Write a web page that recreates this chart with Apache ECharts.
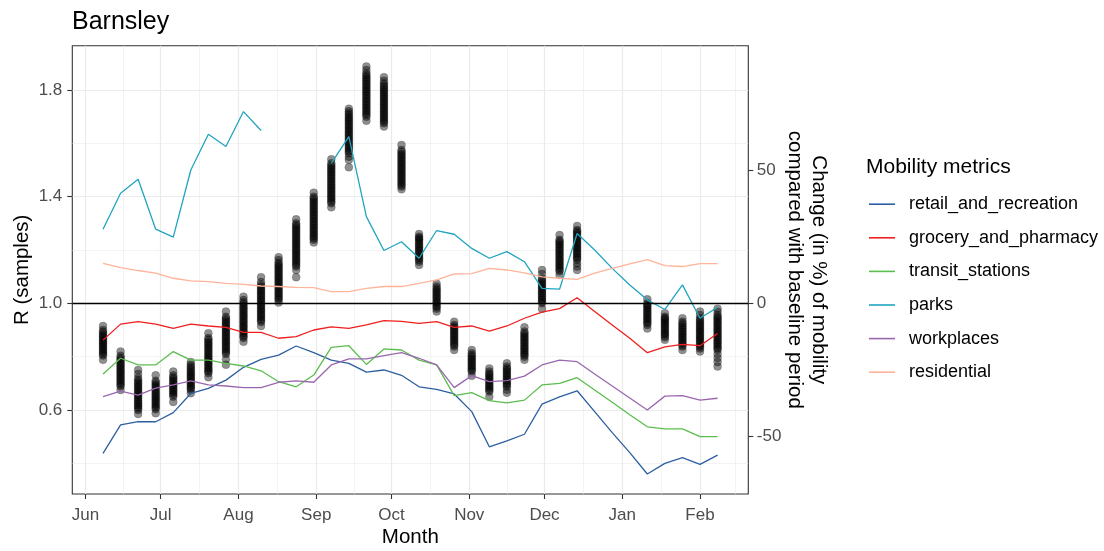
<!DOCTYPE html>
<html>
<head>
<meta charset="utf-8">
<script src="https://cdn.jsdelivr.net/npm/echarts@6/dist/echarts.min.js"></script>
<style>
  html, body { margin: 0; padding: 0; background: #fff; }
  #chart { width: 1104px; height: 551px; }
</style>
</head>
<body>
<div id="chart"></div>
<script>
// weekly mobility dates (Mondays)
const weeks = [
  '2020-06-08', '2020-06-15', '2020-06-22', '2020-06-29', '2020-07-06', '2020-07-13',
  '2020-07-20', '2020-07-27', '2020-08-03', '2020-08-10', '2020-08-17', '2020-08-24',
  '2020-08-31', '2020-09-07', '2020-09-14', '2020-09-21', '2020-09-28', '2020-10-05',
  '2020-10-12', '2020-10-19', '2020-10-26', '2020-11-02', '2020-11-09', '2020-11-16',
  '2020-11-23', '2020-11-30', '2020-12-07', '2020-12-14', '2020-12-21', '2020-12-28',
  '2021-01-04', '2021-01-11', '2021-01-18', '2021-01-25', '2021-02-01', '2021-02-08'
]

// change in % vs baseline
const retail = [-56.3, -45.6, -44.4, -44.4, -41, -33.8, -31.9, -28.8, -24, -21, -19.4, -16, -18.5, -21.3, -22.5, -25.8, -25, -27, -31.3, -32.3, -34, -40.6, -53.8, -51.6, -49.1, -37.8, -35.1, -32.8, -40.6, -48.5, -56, -64, -60, -57.9, -60.4, -56.9]
const grocery = [-13.8, -7.8, -6.9, -7.8, -9.4, -7.8, -8.5, -9, -10.9, -10.9, -13.1, -12.5, -10, -8.8, -9.4, -8.1, -6.5, -6.8, -7.5, -6.9, -9, -8.5, -10.4, -8.5, -5.6, -3.3, -2, 2.1, -3.1, -8.1, -13.1, -18.5, -16.3, -15.4, -15.9, -11.3]
const transit = [-26.5, -20.6, -23.1, -23.1, -18.1, -21.3, -21.3, -22.5, -23.5, -25.3, -29.4, -31.3, -26.9, -16.5, -15.9, -22.9, -17.1, -17.5, -21.3, -23.1, -34.6, -33.5, -36.5, -37.3, -36.3, -30.6, -30, -27.9, -32.5, -37.1, -41.8, -46.3, -47.1, -47.1, -50, -50]
const parks = [27.8, 41.3, 46.5, 27.8, 24.8, 50, 63.4, 58.8, 71.9, 64.8, null, null, null, 52.5, 62.5, 32.5, 19.8, 23.1, 16.9, 27.3, 25.9, 20.6, 16.9, 19.4, 15.6, 5.6, 5.3, 26.2, 20, 13.1, 6.9, 1.3, -2.3, 6.9, -5.6, -1.5]
const workplaces = [-35, -32.9, -34.4, -31.8, -30.6, -29.1, -30.6, -31, -31.6, -31.6, -29.6, -29.1, -29.6, -23.1, -20.8, -20.8, -19.6, -18.5, -20.6, -23.1, -31.6, -27.1, -29.4, -29, -27.3, -23.1, -21.3, -21.9, -26.5, -31, -35.5, -40, -34.8, -34.6, -36.3, -35.6]
const residential = [15, 13.4, 12.3, 11.3, 9.4, 8.4, 8.1, 7.5, 7.1, 6.5, 6.3, 6, 5.9, 4.4, 4.4, 5.6, 6.3, 6.3, 7.5, 8.8, 11, 11.1, 13.1, 12.5, 11.4, 9.9, 9.4, 9, 11.3, 13.1, 14.8, 16.4, 14.1, 13.8, 14.9, 14.9]

const metricNames = ['retail_and_recreation', 'grocery_and_pharmacy', 'transit_stations', 'parks', 'workplaces', 'residential']
const metricValues = [retail, grocery, transit, parks, workplaces, residential]
const metricColors = ['#2d5fa0', '#f01e1e', '#5cbd4f', '#20a4c0', '#9a67ae', '#ffb49a']

// R posterior samples per week
const sampleDates = [
  '2020-06-08', '2020-06-15', '2020-06-22', '2020-06-29', '2020-07-06', '2020-07-13',
  '2020-07-20', '2020-07-27', '2020-08-03', '2020-08-10', '2020-08-17', '2020-08-24',
  '2020-08-31', '2020-09-07', '2020-09-14', '2020-09-21', '2020-09-28', '2020-10-05',
  '2020-10-12', '2020-10-19', '2020-10-26', '2020-11-02', '2020-11-09', '2020-11-16',
  '2020-11-23', '2020-11-30', '2020-12-07', '2020-12-14',
  '2021-01-11', '2021-01-18', '2021-01-25', '2021-02-01', '2021-02-08'
]
const samples = [
  [0.788, 0.804, 0.809, 0.816, 0.821, 0.828, 0.833, 0.84, 0.846, 0.851, 0.857, 0.862, 0.869, 0.874, 0.88, 0.886, 0.893, 0.9, 0.915],
  [0.675, 0.689, 0.695, 0.701, 0.707, 0.714, 0.72, 0.726, 0.733, 0.739, 0.745, 0.751, 0.757, 0.764, 0.77, 0.776, 0.783, 0.79, 0.796, 0.803, 0.819],
  [0.585, 0.6, 0.606, 0.612, 0.618, 0.624, 0.63, 0.636, 0.643, 0.649, 0.655, 0.661, 0.667, 0.673, 0.68, 0.686, 0.692, 0.699, 0.705, 0.712, 0.72, 0.735, 0.75],
  [0.588, 0.603, 0.609, 0.615, 0.621, 0.628, 0.634, 0.64, 0.646, 0.652, 0.658, 0.664, 0.671, 0.677, 0.684, 0.69, 0.697, 0.703, 0.71, 0.73],
  [0.63, 0.65, 0.656, 0.662, 0.668, 0.674, 0.68, 0.686, 0.692, 0.698, 0.704, 0.711, 0.717, 0.723, 0.73, 0.744],
  [0.663, 0.675, 0.681, 0.687, 0.693, 0.699, 0.705, 0.711, 0.718, 0.724, 0.73, 0.736, 0.742, 0.749, 0.756, 0.763, 0.77, 0.78],
  [0.723, 0.738, 0.744, 0.75, 0.756, 0.762, 0.769, 0.775, 0.781, 0.788, 0.794, 0.8, 0.806, 0.813, 0.819, 0.826, 0.832, 0.838, 0.845, 0.851, 0.857, 0.864, 0.87, 0.888],
  [0.77, 0.79, 0.81, 0.816, 0.822, 0.829, 0.835, 0.841, 0.848, 0.854, 0.86, 0.867, 0.873, 0.879, 0.886, 0.892, 0.898, 0.905, 0.911, 0.918, 0.924, 0.93, 0.937, 0.943, 0.95, 0.969],
  [0.856, 0.87, 0.876, 0.882, 0.889, 0.895, 0.901, 0.908, 0.914, 0.92, 0.927, 0.933, 0.939, 0.946, 0.952, 0.958, 0.965, 0.971, 0.978, 0.984, 0.99, 0.997, 1.004, 1.012, 1.025],
  [0.915, 0.93, 0.936, 0.942, 0.949, 0.955, 0.961, 0.968, 0.974, 0.98, 0.987, 0.993, 0.999, 1.006, 1.012, 1.018, 1.025, 1.031, 1.037, 1.044, 1.05, 1.056, 1.063, 1.07, 1.08, 1.098],
  [1.003, 1.013, 1.019, 1.025, 1.032, 1.038, 1.044, 1.051, 1.057, 1.063, 1.07, 1.076, 1.082, 1.089, 1.095, 1.101, 1.108, 1.114, 1.12, 1.127, 1.133, 1.139, 1.146, 1.152, 1.162, 1.173],
  [1.098, 1.125, 1.138, 1.144, 1.151, 1.157, 1.164, 1.17, 1.177, 1.183, 1.19, 1.196, 1.203, 1.209, 1.216, 1.222, 1.229, 1.235, 1.242, 1.248, 1.255, 1.261, 1.268, 1.274, 1.281, 1.287, 1.294, 1.3, 1.315],
  [1.228, 1.238, 1.244, 1.251, 1.257, 1.264, 1.27, 1.277, 1.283, 1.29, 1.296, 1.303, 1.309, 1.316, 1.322, 1.329, 1.335, 1.342, 1.348, 1.355, 1.361, 1.368, 1.374, 1.381, 1.387, 1.394, 1.4, 1.415],
  [1.36, 1.375, 1.381, 1.388, 1.394, 1.401, 1.407, 1.414, 1.42, 1.427, 1.433, 1.44, 1.446, 1.453, 1.459, 1.466, 1.472, 1.479, 1.485, 1.492, 1.498, 1.505, 1.511, 1.518, 1.525, 1.54],
  [1.51, 1.538, 1.55, 1.563, 1.569, 1.576, 1.582, 1.589, 1.595, 1.602, 1.608, 1.615, 1.621, 1.628, 1.634, 1.641, 1.647, 1.654, 1.66, 1.667, 1.673, 1.68, 1.686, 1.693, 1.699, 1.706, 1.713, 1.72, 1.73],
  [1.685, 1.7, 1.706, 1.713, 1.719, 1.726, 1.732, 1.739, 1.745, 1.752, 1.758, 1.765, 1.771, 1.778, 1.784, 1.791, 1.797, 1.804, 1.81, 1.817, 1.823, 1.83, 1.836, 1.843, 1.849, 1.856, 1.863, 1.875, 1.888],
  [1.663, 1.675, 1.681, 1.688, 1.694, 1.701, 1.707, 1.714, 1.72, 1.727, 1.733, 1.74, 1.746, 1.753, 1.759, 1.766, 1.772, 1.779, 1.785, 1.792, 1.798, 1.805, 1.811, 1.818, 1.825, 1.835, 1.848],
  [1.428, 1.438, 1.444, 1.451, 1.457, 1.464, 1.47, 1.477, 1.483, 1.49, 1.496, 1.503, 1.509, 1.516, 1.522, 1.529, 1.535, 1.542, 1.548, 1.555, 1.561, 1.568, 1.575, 1.594],
  [1.144, 1.156, 1.162, 1.169, 1.175, 1.182, 1.188, 1.195, 1.201, 1.208, 1.214, 1.221, 1.227, 1.234, 1.24, 1.245, 1.25, 1.26],
  [0.969, 0.98, 0.986, 0.992, 0.999, 1.005, 1.011, 1.018, 1.024, 1.03, 1.037, 1.043, 1.049, 1.056, 1.063, 1.073],
  [0.825, 0.838, 0.844, 0.85, 0.857, 0.863, 0.869, 0.876, 0.882, 0.888, 0.895, 0.901, 0.907, 0.913, 0.919, 0.931],
  [0.728, 0.744, 0.75, 0.756, 0.762, 0.768, 0.775, 0.781, 0.787, 0.793, 0.8, 0.806, 0.813, 0.825],
  [0.65, 0.669, 0.675, 0.681, 0.687, 0.693, 0.699, 0.706, 0.712, 0.718, 0.725, 0.731, 0.737, 0.744, 0.756],
  [0.665, 0.676, 0.688, 0.694, 0.7, 0.706, 0.712, 0.719, 0.725, 0.731, 0.737, 0.744, 0.75, 0.756, 0.763, 0.775],
  [0.788, 0.8, 0.806, 0.812, 0.818, 0.825, 0.831, 0.837, 0.843, 0.85, 0.856, 0.862, 0.869, 0.875, 0.881, 0.888, 0.894, 0.91],
  [0.98, 1.0, 1.006, 1.012, 1.018, 1.025, 1.031, 1.037, 1.043, 1.05, 1.056, 1.062, 1.069, 1.075, 1.081, 1.088, 1.094, 1.11, 1.125],
  [1.106, 1.12, 1.126, 1.132, 1.139, 1.145, 1.151, 1.158, 1.164, 1.17, 1.177, 1.183, 1.189, 1.196, 1.202, 1.208, 1.215, 1.221, 1.227, 1.233, 1.238, 1.256],
  [1.125, 1.138, 1.15, 1.163, 1.169, 1.175, 1.182, 1.188, 1.194, 1.201, 1.207, 1.213, 1.22, 1.226, 1.232, 1.239, 1.245, 1.251, 1.258, 1.264, 1.27, 1.275, 1.29],
  [0.906, 0.919, 0.925, 0.931, 0.938, 0.944, 0.95, 0.957, 0.963, 0.969, 0.976, 0.982, 0.988, 0.994, 1.0, 1.015],
  [0.863, 0.873, 0.879, 0.885, 0.891, 0.897, 0.903, 0.91, 0.916, 0.922, 0.928, 0.934, 0.94, 0.945, 0.95, 0.963],
  [0.825, 0.838, 0.844, 0.85, 0.856, 0.862, 0.869, 0.875, 0.881, 0.887, 0.893, 0.9, 0.906, 0.912, 0.918, 0.925, 0.931, 0.944],
  [0.819, 0.831, 0.837, 0.843, 0.849, 0.856, 0.862, 0.868, 0.874, 0.88, 0.887, 0.893, 0.899, 0.905, 0.912, 0.918, 0.924, 0.931, 0.937, 0.944, 0.956, 0.969],
  [0.763, 0.78, 0.795, 0.81, 0.825, 0.831, 0.837, 0.844, 0.85, 0.856, 0.862, 0.869, 0.875, 0.881, 0.887, 0.894, 0.9, 0.906, 0.912, 0.919, 0.925, 0.931, 0.937, 0.944, 0.95, 0.956, 0.968, 0.98]
]

// axis breaks
const monthBreaks = ['2020-06-01', '2020-07-01', '2020-08-01', '2020-09-01', '2020-10-01', '2020-11-01', '2020-12-01', '2021-01-01', '2021-02-01']
const monthLabels = ['Jun', 'Jul', 'Aug', 'Sep', 'Oct', 'Nov', 'Dec', 'Jan', 'Feb']
const monthMinor = ['2020-06-16T00:00', '2020-07-16T12:00', '2020-08-16T12:00', '2020-09-16T00:00', '2020-10-16T12:00', '2020-11-16T00:00', '2020-12-16T12:00', '2021-01-16T12:00', '2021-02-15T00:00']
const rBreaks = [0.6, 1.0, 1.4, 1.8]
const rMinor = [0.4, 0.8, 1.2, 1.6]
const pctBreaks = [-50, 0, 50]

const FONT = "'Liberation Sans', Arial, sans-serif"
const GRID_COLOR = '#ebebeb'
const INK = '#333333'

// dates become plain numbers (ms) on a value axis
function toTime(s) {
  return Date.parse(s.length === 10 ? s + 'T00:00:00Z' : s + ':00Z')
}

const xMin = toTime('2020-05-26T18:00')
const xMax = toTime('2021-02-20T06:00')
const rMin = 0.285
const rMax = 1.966
const pctMin = (rMin - 1) * 100
const pctMax = (rMax - 1) * 100

const monthTimes = monthBreaks.map(toTime)
const labelByTime = {}
monthTimes.forEach((t, i) => { labelByTime[t] = monthLabels[i] })

const sampleData = []
sampleDates.forEach((d, i) => {
  samples[i].forEach(v => sampleData.push([toTime(d), v]))
})

const lineSeries = metricNames.map((name, k) => ({
  name,
  type: 'line',
  xAxisIndex: 0,
  yAxisIndex: 1,
  data: weeks.map((d, i) => [toTime(d), metricValues[k][i]]),
  showSymbol: false,
  symbol: 'none',
  connectNulls: false,
  color: metricColors[k],
  itemStyle: { color: metricColors[k] },
  lineStyle: { color: metricColors[k], width: 1.3 },
  z: 4,
  silent: true
}))

const chart = echarts.init(document.getElementById('chart'), null, { renderer: 'canvas' })

chart.setOption({
  animation: false,
  backgroundColor: '#ffffff',
  textStyle: { fontFamily: FONT },
  title: [
    {
      text: 'Barnsley',
      left: 72,
      top: 10,
      padding: 0,
      textStyle: { fontFamily: FONT, fontSize: 25, fontWeight: 'normal', color: '#000' }
    },
    {
      text: 'Mobility metrics',
      left: 866,
      top: 157,
      padding: 0,
      textStyle: { fontFamily: FONT, fontSize: 21, fontWeight: 'normal', color: '#000' }
    }
  ],
  legend: {
    orient: 'vertical',
    left: 869,
    top: 195.2,
    padding: 0,
    itemWidth: 26,
    itemHeight: 1.6,
    itemGap: 15.6,
    icon: 'rect',
    selectedMode: false,
    data: metricNames,
    textStyle: { fontFamily: FONT, fontSize: 18, color: '#000', lineHeight: 18, padding: [0, 0, 0, 9] }
  },
  grid: {
    left: 72.3,
    top: 45.7,
    right: 355.7,
    bottom: 57,
    outerBoundsMode: 'none',
    containLabel: false,
    show: true,
    backgroundColor: '#fff',
    borderColor: INK,
    borderWidth: 1.1
  },
  xAxis: [
    {
      type: 'value',
      position: 'bottom',
      min: xMin,
      max: xMax,
      axisLine: { show: false, onZero: false },
      axisTick: { show: true, customValues: monthTimes, length: 5, lineStyle: { color: INK, width: 1.1 } },
      axisLabel: {
        customValues: monthTimes,
        formatter: v => labelByTime[v] || '',
        color: '#4d4d4d',
        fontSize: 17,
        fontFamily: FONT,
        margin: 13
      },
      splitLine: { show: true, lineStyle: { color: GRID_COLOR, width: 1.2 } },
      name: 'Month',
      nameLocation: 'middle',
      nameGap: 33,
      nameMoveOverlap: false,
      nameTextStyle: { fontFamily: FONT, fontSize: 20.5, color: '#000' }
    },
    {
      type: 'value',
      position: 'bottom',
      min: xMin,
      max: xMax,
      axisLine: { show: false, onZero: false },
      axisTick: { show: false, customValues: monthMinor.map(toTime) },
      axisLabel: { show: false },
      splitLine: { show: true, lineStyle: { color: GRID_COLOR, width: 0.6 } }
    }
  ],
  yAxis: [
    {
      type: 'value',
      position: 'left',
      min: rMin,
      max: rMax,
      axisLine: { show: false, onZero: false },
      axisTick: { show: true, customValues: rBreaks, length: 5, lineStyle: { color: INK, width: 1.1 } },
      axisLabel: {
        customValues: rBreaks,
        formatter: v => v.toFixed(1),
        color: '#4d4d4d',
        fontSize: 17,
        fontFamily: FONT,
        margin: 10,
        padding: [4, 0, 0, 0]
      },
      splitLine: { show: true, lineStyle: { color: GRID_COLOR, width: 1.2 } },
      name: 'R (samples)',
      nameLocation: 'middle',
      nameRotate: 90,
      nameGap: 39,
      nameMoveOverlap: false,
      nameTextStyle: { fontFamily: FONT, fontSize: 20.5, color: '#000' }
    },
    {
      type: 'value',
      position: 'right',
      min: pctMin,
      max: pctMax,
      axisLine: { show: false, onZero: false },
      axisTick: { show: true, customValues: pctBreaks, length: 5, lineStyle: { color: INK, width: 1.1 } },
      axisLabel: {
        customValues: pctBreaks,
        color: '#4d4d4d',
        fontSize: 17,
        fontFamily: FONT,
        margin: 8.5,
        padding: [4, 0, 0, 0]
      },
      splitLine: { show: false },
      name: 'Change (in %) of mobility\ncompared with baseline period',
      nameLocation: 'middle',
      nameRotate: -90,
      nameGap: 35,
      nameMoveOverlap: false,
      nameTextStyle: { fontFamily: FONT, fontSize: 20.5, color: '#000', lineHeight: 23.5 }
    },
    {
      type: 'value',
      position: 'left',
      min: rMin,
      max: rMax,
      axisLine: { show: false, onZero: false },
      axisTick: { show: false, customValues: rMinor },
      axisLabel: { show: false },
      splitLine: { show: true, lineStyle: { color: GRID_COLOR, width: 0.6 } }
    }
  ],
  series: [
    {
      type: 'scatter',
      xAxisIndex: 0,
      yAxisIndex: 0,
      data: sampleData,
      symbol: 'circle',
      symbolSize: 8,
      itemStyle: { color: 'rgba(0,0,0,0.55)', borderColor: 'rgba(0,0,0,0.25)', borderWidth: 0.8 },
      silent: true,
      z: 2,
      markLine: {
        silent: true,
        symbol: 'none',
        label: { show: false },
        lineStyle: { color: '#000', width: 1.3, type: 'solid' },
        data: [{ yAxis: 1 }]
      }
    },
    ...lineSeries
  ]
})
</script>
</body>
</html>
